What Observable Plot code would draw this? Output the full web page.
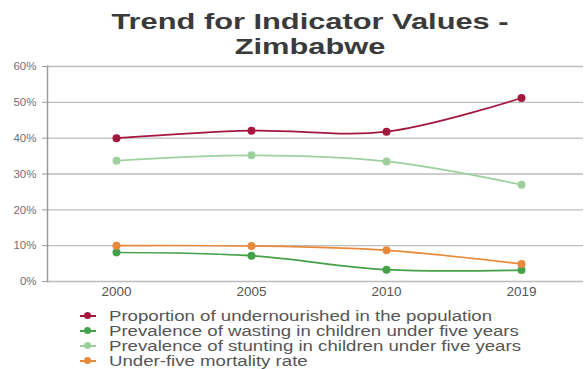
<!DOCTYPE html>
<html>
<head>
<meta charset="utf-8">
<script src="https://cdn.jsdelivr.net/npm/d3@7"></script>
<script src="https://cdn.jsdelivr.net/npm/@observablehq/plot@0.6"></script>
<style>
  html, body { margin: 0; padding: 0; background: #fff; }
  #wrap { width: 585px; height: 369px; position: relative; overflow: hidden; font-family: "Liberation Sans", Arial, sans-serif; }
  #title { position: absolute; left: 0; top: 9px; width: 620px; text-align: center; font-weight: bold; font-size: 22px; line-height: 25px; color: #3a3a3a; transform: scaleX(1.4); transform-origin: 310px 0; }
  #chart { position: absolute; left: 0; top: 56px; }
  #legend { position: absolute; left: 80px; top: 308px; }
  .row { display: flex; align-items: center; height: 15px; font-size: 14px; color: #555; white-space: nowrap; }
  .row .tx { display: inline-block; transform: scaleX(1.33); transform-origin: 0 50%; }
  .sw { position: relative; width: 16px; height: 10px; margin-right: 13px; }
  .sw .ln { position: absolute; left: 0; top: 4px; width: 16px; height: 2px; }
  .sw .dt { position: absolute; left: 4px; top: 1.5px; width: 7px; height: 7px; border-radius: 50%; }
</style>
</head>
<body>
<div id="wrap">
  <div id="title">Trend for Indicator Values -<br>Zimbabwe</div>
  <div id="chart"></div>
  <div id="legend"></div>
</div>
<script>
const years = ["2000", "2005", "2010", "2019"];
const seriesNames = [
  "Proportion of undernourished in the population",
  "Prevalence of wasting in children under five years",
  "Prevalence of stunting in children under five years",
  "Under-five mortality rate"
];
const seriesColors = ["#a3173f", "#45a148", "#9dd09d", "#e8893c"];
const undernourished = [0.400, 0.421, 0.418, 0.512];
const wasting = [0.081, 0.072, 0.033, 0.032];
const stunting = [0.337, 0.352, 0.335, 0.270];
const mortality = [0.100, 0.099, 0.087, 0.049];
const yTicks = [0, 0.1, 0.2, 0.3, 0.4, 0.5, 0.6];

const seriesValues = [undernourished, wasting, stunting, mortality];
const rows = seriesNames.flatMap((name, s) =>
  years.map((year, i) => ({ series: name, year, value: seriesValues[s][i] }))
);

const chart = Plot.plot({
  width: 585,
  height: 246,
  marginTop: 10,
  marginBottom: 21,
  marginLeft: 47,
  marginRight: 2,
  style: { fontFamily: "\"Liberation Sans\", Arial, sans-serif", background: "transparent" },
  x: { type: "point", domain: years, padding: 0, insetLeft: 68, insetRight: 60.7, label: null },
  y: { domain: [0, 0.6], ticks: yTicks, label: null },
  color: { domain: seriesNames, range: seriesColors },
  marks: [
    Plot.gridY(yTicks, { stroke: "#bdbdbd", strokeOpacity: 1, strokeWidth: 1.3 }),
    Plot.axisY(yTicks, { tickFormat: d3.format(".0%"), tickSize: 5, tickPadding: 6, fontSize: 11.5, color: "#707070", stroke: "#9a9a9a", label: null }),
    Plot.frame({ anchor: "left", stroke: "#9a9a9a", strokeWidth: 1.5 }),
    Plot.axisX({ tickSize: 0, tickPadding: 5, fontSize: 13.5, color: "#555", label: null }),
    Plot.line(rows, { x: "year", y: "value", z: "series", stroke: "series", strokeWidth: 1.7, curve: "catmull-rom" }),
    Plot.dot(rows, { x: "year", y: "value", fill: "series", r: 4 })
  ]
});
document.getElementById("chart").appendChild(chart);

const legend = document.getElementById("legend");
seriesNames.forEach((name, i) => {
  const row = document.createElement("div");
  row.className = "row";
  row.innerHTML = `<span class="sw"><span class="ln" style="background:${seriesColors[i]}"></span><span class="dt" style="background:${seriesColors[i]}"></span></span><span class="tx">${name}</span>`;
  legend.appendChild(row);
});
</script>
</body>
</html>
